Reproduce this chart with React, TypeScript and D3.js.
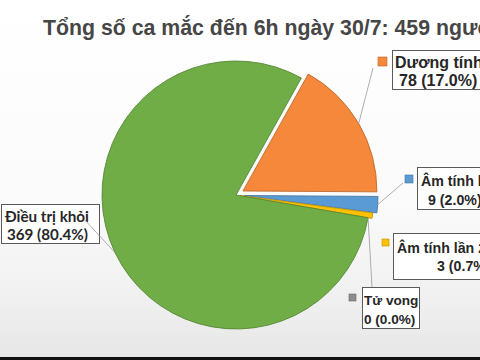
import * as d3 from 'd3';

// chart data
const categories: string[] = ['Dương tính', 'Âm tính lần 1', 'Âm tính lần 2', 'Tử vong', 'Điều trị khỏi'];
const values: number[] = [78, 9, 3, 0, 369];
const colors: string[] = ['#f5883b', '#5b9bd5', '#ffc000', '#8c8c8c', '#70ad47'];
const title: string = 'Tổng số ca mắc đến 6h ngày 30/7: 459 người';

// layout / styling
const width: number = 480;
const height: number = 360;
const cx: number = 236;
const cy: number = 195;
const R: number = 134;
const startDeg: number = 29.2;
const explode: number[] = [8, 8, 4, 0, 0];

// hand placed label boxes (Excel style data labels)
type LabelBox = {
  bx: number; by: number; bw: number; bh: number;
  key: [number, number, number] | null;
  x1: number; x2: number; y1: number; y2: number;
  font: string; size: number;
  lead: [number, number] | null;
};
const arial = 'Liberation Sans, Arial, sans-serif';
const labelBoxes: LabelBox[] = [
  { bx: 392, by: 50, bw: 92, bh: 39, key: [378, 57, 9], x1: 395, x2: 399, y1: 68, y2: 86, font: arial, size: 16, lead: [373, 68] },
  { bx: 417, by: 167, bw: 100, bh: 42, key: [405, 175, 8], x1: 421, x2: 428, y1: 186, y2: 205, font: arial, size: 14.2, lead: [403, 183] },
  { bx: 393, by: 233, bw: 110, bh: 46, key: [382, 239, 7], x1: 397, x2: 437, y1: 253, y2: 271, font: arial, size: 14.2, lead: null },
  { bx: 362, by: 287, bw: 57, bh: 41, key: [349, 294, 7], x1: 364, x2: 364, y1: 305, y2: 324, font: arial, size: 13.6, lead: [372, 287] },
  { bx: 1, by: 204, bw: 98, bh: 39, key: null, x1: 5, x2: 7, y1: 222, y2: 240, font: 'Lato, sans-serif', size: 15.2, lead: [84, 219] },
];

export default function App() {
  const total = d3.sum(values);
  const fmtPct = d3.format('.1%');
  const a0 = (startDeg * Math.PI) / 180;

  const pie = d3.pie<number>()
    .sort(null)
    .value((d: number) => d)
    .startAngle(a0)
    .endAngle(a0 + 2 * Math.PI);
  const slices = pie(values);

  const arc: any = d3.arc().innerRadius(0).outerRadius(R);
  const edge: any = d3.arc().innerRadius(R).outerRadius(R);

  const offset = (d: any, i: number): [number, number] => {
    const mid = (d.startAngle + d.endAngle) / 2;
    return [Math.sin(mid) * explode[i], -Math.cos(mid) * explode[i]];
  };

  return (
    <svg width={width} height={height} viewBox={`0 0 ${width} ${height}`}
      style={{ position: 'fixed', left: 0, top: 0, display: 'block' }}>
      <defs>
        <linearGradient id="bg" x1="0" y1="0" x2="0" y2="1">
          <stop offset="0" stopColor="#ffffff" />
          <stop offset="0.55" stopColor="#fbfbfb" />
          <stop offset="0.85" stopColor="#efefef" />
          <stop offset="1" stopColor="#e6e6e6" />
        </linearGradient>
      </defs>
      <rect x={0} y={0} width={width} height={height} fill="url(#bg)" />
      <rect x={0} y={357} width={width} height={3} fill="#111" />

      <text x={43} y={35} fontFamily={arial} fontWeight="bold"
        fontSize={21.3} fill="#464646">{title}</text>

      <g transform={`translate(${cx},${cy})`}>
        {slices.map((d: any, i: number) => {
          if (d.value === 0) return null;
          const [ox, oy] = offset(d, i);
          return (
            <path key={categories[i]} d={arc(d)} transform={`translate(${ox},${oy})`}
              fill={colors[i]} stroke={d3.color(colors[i])!.darker(0.7).toString()} strokeWidth={0.9}
              strokeLinejoin="round" />
          );
        })}
        {slices.map((d: any, i: number) => {
          const lb = labelBoxes[i];
          if (!lb.lead || i === 4) return null;
          const [ox, oy] = offset(d, i);
          const [px, py] = edge.centroid(d);
          return (
            <line key={'lead' + i} x1={lb.lead[0] - cx} y1={lb.lead[1] - cy} x2={px + ox} y2={py + oy}
              stroke="#9a9a9a" strokeWidth={0.8} />
          );
        })}
      </g>

      {slices.map((d: any, i: number) => {
        const lb = labelBoxes[i];
        return (
          <g key={'lab' + i} fontFamily={lb.font} fontWeight="bold" fontSize={lb.size} fill="#262626">
            {lb.key && (
              <rect x={lb.key[0]} y={lb.key[1]} width={lb.key[2]} height={lb.key[2]}
                fill={colors[i]} stroke={d3.color(colors[i])!.darker(0.8).toString()} strokeWidth={0.6} />
            )}
            <rect x={lb.bx + 0.5} y={lb.by + 0.5} width={lb.bw} height={lb.bh}
              fill="#ffffff" stroke="#5a5a5a" strokeWidth={1} />
            <text x={lb.x1} y={lb.y1}>{categories[i]}</text>
            <text x={lb.x2} y={lb.y2}>{`${values[i]} (${fmtPct(values[i] / total)})`}</text>
          </g>
        );
      })}

      {/* green leader line sits over its box, as in the source */}
      {(() => {
        const i = 4;
        const lb = labelBoxes[i];
        const d: any = slices[i];
        const [px, py] = edge.centroid(d);
        return lb.lead ? (
          <line x1={lb.lead[0]} y1={lb.lead[1]} x2={cx + px} y2={cy + py} stroke="#9a9a9a" strokeWidth={0.8} />
        ) : null;
      })()}
    </svg>
  );
}
